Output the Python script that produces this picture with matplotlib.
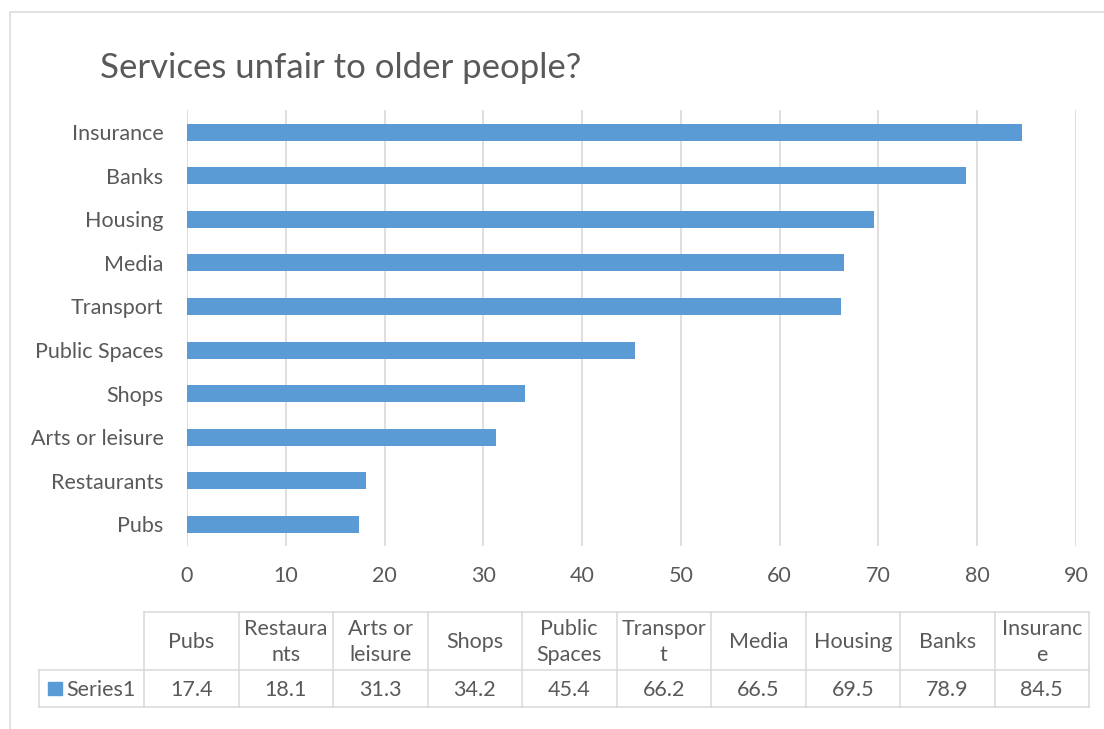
import matplotlib
matplotlib.use('Agg')
import matplotlib.pyplot as plt
from matplotlib.patches import Rectangle

# ---- data ----
categories = ["Pubs", "Restaurants", "Arts or leisure", "Shops", "Public Spaces",
              "Transport", "Media", "Housing", "Banks", "Insurance"]
values = [17.4, 18.1, 31.3, 34.2, 45.4, 66.2, 66.5, 69.5, 78.9, 84.5]
table_headers = ["Pubs", "Restaura\nnts", "Arts or\nleisure", "Shops", "Public\nSpaces",
                 "Transpor\nt", "Media", "Housing", "Banks", "Insuranc\ne"]
series_name = "Series1"
title_text = "Services unfair to older people?"
x_ticks = [0, 10, 20, 30, 40, 50, 60, 70, 80, 90]

# ---- style ----
W, H = 1104, 729
BAR = '#5b9bd5'
GRID = '#d9d9d9'
TXT = '#595959'
FONT = 'Lato'
FS = 15.5
plt.rcParams['font.family'] = [FONT, 'DejaVu Sans']

fig = plt.figure(figsize=(W / 100, H / 100), dpi=100)
fig.patch.set_facecolor('white')

# main plot area (pixel geometry -> figure fractions)
left, right, top, bottom = 187, 1076, 110.2, 546.3
ax = fig.add_axes([left / W, 1 - bottom / H, (right - left) / W, (bottom - top) / H])
ax.barh(range(len(categories)), values, height=0.39, color=BAR, zorder=3)
ax.set_xlim(0, 90)
ax.set_ylim(-0.5, len(categories) - 0.5)
ax.set_xticks(x_ticks)
ax.set_yticks(range(len(categories)))
ax.set_yticklabels(categories)
ax.grid(axis='x', color=GRID, lw=1.2, zorder=0)
ax.set_axisbelow(True)
for s in ax.spines.values():
    s.set_visible(False)
ax.tick_params(axis='both', length=0, labelsize=FS, labelcolor=TXT)
ax.tick_params(axis='y', pad=17)
ax.tick_params(axis='x', pad=14)

# overlay in pixel coordinates for border, title and data table
ov = fig.add_axes([0, 0, 1, 1])
ov.set_xlim(0, W)
ov.set_ylim(H, 0)
ov.axis('off')

lw = 1.1
ov.plot([10, 10, W], [H, 12, 12], color=GRID, lw=lw, solid_capstyle='butt')

ov.text(100, 78, title_text, fontsize=25, color=TXT, ha='left', va='baseline')

# table geometry
t_top, t_mid, t_bot = 611.7, 670, 707
c0 = 39
c1 = 144
cw = (1089 - 144) / len(categories)
ov.plot([c1, c1 + cw * len(categories)], [t_top, t_top], color=GRID, lw=lw)
ov.plot([c0, c1 + cw * len(categories)], [t_mid, t_mid], color=GRID, lw=lw)
ov.plot([c0, c1 + cw * len(categories)], [t_bot, t_bot], color=GRID, lw=lw)
ov.plot([c0, c0], [t_mid, t_bot], color=GRID, lw=lw)
for i in range(len(categories) + 1):
    x = c1 + i * cw
    ov.plot([x, x], [t_top, t_bot], color=GRID, lw=lw)

for i, (hdr, v) in enumerate(zip(table_headers, values)):
    xc = c1 + (i + 0.5) * cw
    ov.text(xc, (t_top + t_mid) / 2 + 1, hdr, ha='center', va='center',
            fontsize=FS, color=TXT, linespacing=1.4)
    ov.text(xc, (t_mid + t_bot) / 2 + 1, f"{v:.1f}", ha='center', va='center',
            fontsize=FS, color=TXT)

ov.add_patch(Rectangle((48, 682), 14, 12.5, color=BAR))
ov.text(66, (t_mid + t_bot) / 2 + 1, series_name, ha='left', va='center',
        fontsize=FS, color=TXT)

fig.savefig('out.png', dpi=100)
